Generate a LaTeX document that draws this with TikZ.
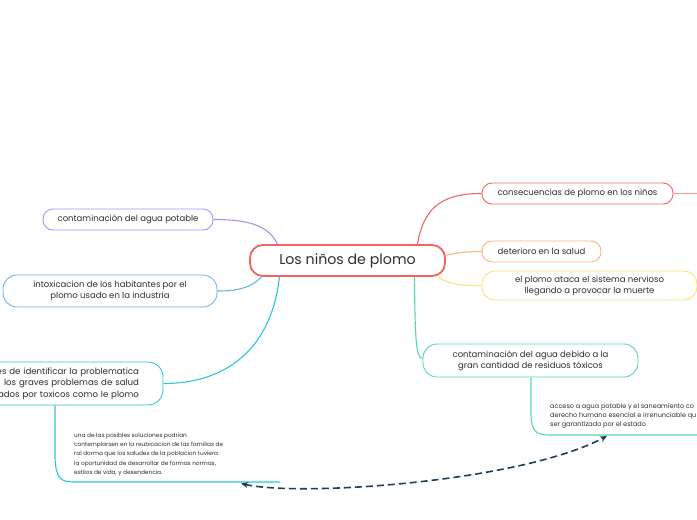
\documentclass[tikz,border=0pt]{standalone}
\usepackage{fontspec}
\setmainfont{Poppins}
\usetikzlibrary{arrows.meta}
\definecolor{cred}{HTML}{F2645C}
\definecolor{cred2}{HTML}{FF9E9A}
\definecolor{cpur}{HTML}{A594F5}
\definecolor{cblu}{HTML}{6BB3EE}
\definecolor{ctea}{HTML}{2CC8D8}
\definecolor{cgrn}{HTML}{52D8AC}
\definecolor{corg}{HTML}{FBB57E}
\definecolor{cyel}{HTML}{F8E67A}
\definecolor{cdash}{HTML}{1E3F5A}
\definecolor{ctxt}{HTML}{2E2E2E}
\begin{document}
\begin{tikzpicture}[x=1pt,y=-1pt,
  mnode/.style={draw=#1, line width=0.9pt, rounded corners=10pt, inner sep=0pt, align=center,
     text=ctxt, font=\fontsize{8.5}{11}\selectfont, fill=white},
  conn/.style={draw=#1, line width=1.1pt},
  small/.style={inner sep=0pt, align=left, text=ctxt, font=\fontsize{5.8}{9.3}\selectfont, anchor=north west}
]
\useasboundingbox (0,0) rectangle (697,520);
\clip (0,0) rectangle (697,520);
\fill[white] (0,0) rectangle (697,520);

% nodes
\node[mnode=cred, line width=1.8pt, rounded corners=13pt, minimum width=195pt, minimum height=31pt,
      font=\fontsize{14.2}{16}\selectfont] (root) at (347.5,260.5) {Los niños de plomo};

\node[mnode=cpur, minimum width=170pt, minimum height=21pt] (pur) at (128,219.5) {contaminación del agua potable};
\node[mnode=cblu, minimum width=214pt, minimum height=32pt, rounded corners=14pt] (blu) at (110,291)
   {intoxicacion de los habitantes por el\\plomo usado en la industria};
\node[mnode=ctea, minimum width=238pt, minimum height=43pt, rounded corners=15pt, text width=190pt,
      align=right, inner xsep=24pt, font=\fontsize{8.6}{11.5}\selectfont] (tea) at (44,383.5)
   {es de identificar la problematica\\los graves problemas de salud\\ados por toxicos como le plomo};

\node[mnode=cred, minimum width=191pt, minimum height=21pt] (cons) at (577.5,193.5) {consecuencias de plomo en los niños};
\node[mnode=corg, minimum width=119pt, minimum height=21pt] (det) at (541.5,251.5) {deterioro en la salud};
\node[mnode=cyel, minimum width=215pt, minimum height=29pt, rounded corners=13pt] (yel) at (589.5,285.5)
   {el plomo ataca el sistema nervioso\\llegando a provocar la muerte};
\node[mnode=cgrn, minimum width=215pt, minimum height=33pt, rounded corners=14pt] (grn) at (530.5,360.5)
   {contaminación del agua debido a la\\gran cantidad de residuos tóxicos};

% connectors from root
\draw[conn=cred] ([xshift=70pt]root.north) .. controls (424,205) and (445,193.5) .. (cons.west);
\draw[conn=corg] ([xshift=-1pt,yshift=5pt]root.east) .. controls (460,252) and (470,251.5) .. (det.west);
\draw[conn=cyel] ([xshift=-8pt]root.south east) .. controls (452,286) and (465,285.5) .. (yel.west);
\draw[conn=cgrn] ([xshift=67pt]root.south) .. controls (415,340) and (416,358) .. ([yshift=2pt]grn.west);
\draw[conn=cpur] ([xshift=-70pt]root.north) .. controls (268,224) and (245,219.5) .. (pur.east);
\draw[conn=cblu] ([xshift=-86pt]root.south) .. controls (250,289) and (235,291) .. (blu.east);
\draw[conn=ctea] ([xshift=-68pt]root.south) .. controls (272,345) and (230,383.5) .. (tea.east);
\coordinate (redend) at (697,193.5);
\draw[conn=cred2] (cons.east) -- (redend);

% sub-branches
\coordinate (gs) at (531,377);
\coordinate (gend) at (697,435);
\draw[conn=cgrn] (grn.south -| gs) -- (531,412) .. controls (531,432) and (536,435) .. (550,435) -- (gend);
\coordinate (ts) at (55,405);
\coordinate (tend) at (280,482);
\draw[conn=ctea] (tea.south -| ts) -- (55,458) .. controls (56,478) and (60,482) .. (74,482) -- (tend);

\node[small] (tsmall) at (74,432.5) {una de las posibles soluciones podrian\\contemplarsen en la reubicacion de las familias de\\ral dorma que los saludes de la poblacion tuviera\\la oportunidad de desarrollar de formas normas,\\estilos de vida, y desendencia.};
\node[small, font=\fontsize{6.5}{9.3}\selectfont] (gsmall) at (550,403) {acceso a agua potable y el saneamiento co\\derecho humano esencial e irrenunciable qu\\ser garantizado por el estado};

% dashed relation
\coordinate (ta) at (241,483.5);
\coordinate (ga) at (607,436);
\draw[cdash, line width=1.6pt, dash pattern=on 7pt off 4pt, {Stealth[length=7pt,width=6pt]}-{Stealth[length=7pt,width=6pt]}]
  (ta) .. controls (300,497) and (520,482) .. (ga);
\end{tikzpicture}
\end{document}
